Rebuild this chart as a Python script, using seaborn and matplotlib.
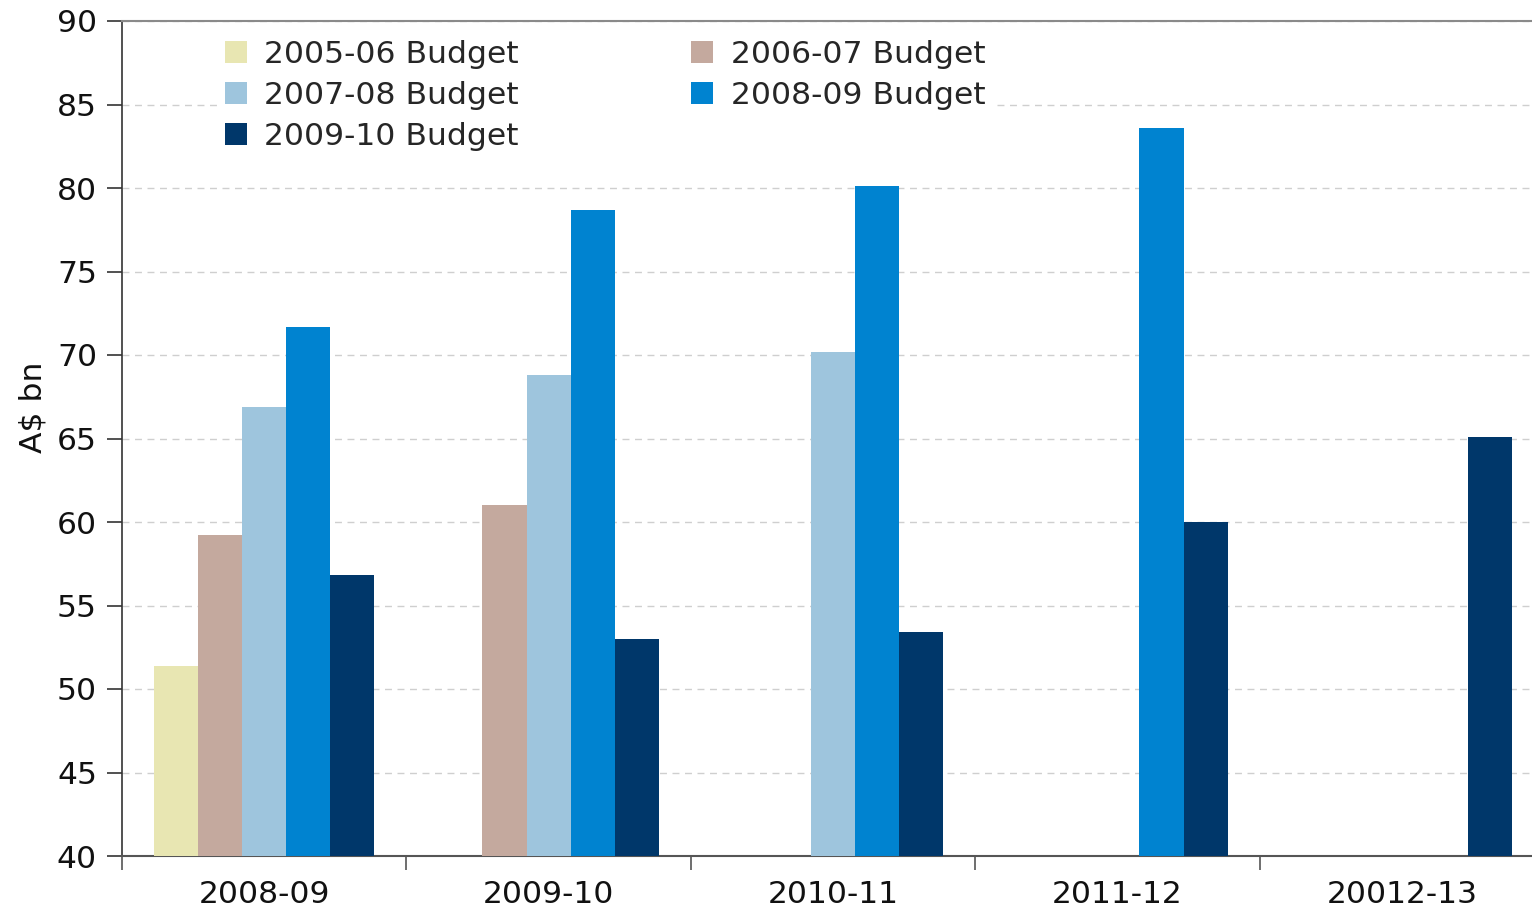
import numpy as np
import pandas as pd
import matplotlib
matplotlib.use("Agg")
import matplotlib.pyplot as plt
import seaborn as sns

# Forecast years on the x axis and the estimate published in each budget
years = ["2008-09", "2009-10", "2010-11", "2011-12", "20012-13"]
budgets = ["2005-06 Budget", "2006-07 Budget", "2007-08 Budget",
           "2008-09 Budget", "2009-10 Budget"]
b2005_06 = [51.4, np.nan, np.nan, np.nan, np.nan]
b2006_07 = [59.2, 61.0, np.nan, np.nan, np.nan]
b2007_08 = [66.9, 68.8, 70.2, np.nan, np.nan]
b2008_09 = [71.7, 78.7, 80.1, 83.6, np.nan]
b2009_10 = [56.8, 53.0, 53.4, 60.0, 65.1]
colors = ["#E8E6B2", "#C4A99E", "#9EC5DD", "#0083D0", "#00376A"]
y_ticks = [40, 45, 50, 55, 60, 65, 70, 75, 80, 85, 90]

series = [b2005_06, b2006_07, b2007_08, b2008_09, b2009_10]
rows = []
for name, vals in zip(budgets, series):
    for yr, v in zip(years, vals):
        if not np.isnan(v):
            rows.append({"year": yr, "budget": name, "value": v})
df = pd.DataFrame(rows)

sns.set_theme(style="white")
plt.rcParams["font.family"] = ["DejaVu Sans"]

FS = 22.6
W, H = 1532, 918
fig = plt.figure(figsize=(W / 100, H / 100), dpi=100)
ax = fig.add_axes([122 / W, (H - 856) / H, 1422 / W, 835 / H])

sns.barplot(data=df, x="year", y="value", hue="budget",
            order=years, hue_order=budgets, palette=colors,
            width=0.775, saturation=1, dodge=True, errorbar=None,
            linewidth=0, ax=ax, zorder=3)

ax.set_ylim(40, 90)
ax.set_xlim(-0.5, len(years) - 0.5)
ax.set_yticks(y_ticks)
ax.yaxis.grid(True, linestyle=(0, (5, 4)), color="#CFCFCF", linewidth=1.0, zorder=0)
ax.xaxis.grid(False)
ax.set_axisbelow(True)

ax.spines["right"].set_visible(False)
ax.spines["top"].set_color("#8A8A8A")
ax.spines["top"].set_linewidth(1.5)
ax.spines["left"].set_color("#333333")
ax.spines["bottom"].set_color("#555555")
ax.spines["left"].set_linewidth(1.2)
ax.spines["bottom"].set_linewidth(1.5)

# Category boundaries carry the tick marks; labels sit centred below
ax.set_xticks(np.arange(len(years)))
ax.set_xticklabels(years)
ax.set_xticks(np.arange(len(years)) - 0.5, minor=True)
ax.tick_params(axis="x", which="major", length=0, pad=17.5, labelsize=FS, labelcolor="#111111")
ax.tick_params(axis="x", which="minor", length=10, width=1.2, color="#555555", direction="out", bottom=True)
ax.tick_params(axis="y", which="major", length=11, width=1.2, color="#333333",
               direction="out", left=True, pad=7, labelsize=FS, labelcolor="#111111")

ax.set_xlabel("")
ax.set_ylabel(r"A\$ bn", fontsize=FS, color="#111111")
ax.yaxis.set_label_coords(-75 / 1422, (856 - 407) / 835)

# Legend filled row by row in two columns
handles, labels = ax.get_legend_handles_labels()
order = [0, 2, 4, 1, 3]
leg = ax.legend([handles[i] for i in order], [labels[i] for i in order],
                ncol=2, loc="upper left", bbox_to_anchor=(0.068, 0.985),
                fontsize=FS, frameon=True, facecolor="white", edgecolor="none",
                framealpha=1, fancybox=False, handlelength=0.7, handleheight=0.7,
                handletextpad=0.55, columnspacing=5.5, labelspacing=0.38,
                borderpad=0.2, borderaxespad=0)
leg.set_zorder(5)

fig.savefig("out.png", dpi=100)
